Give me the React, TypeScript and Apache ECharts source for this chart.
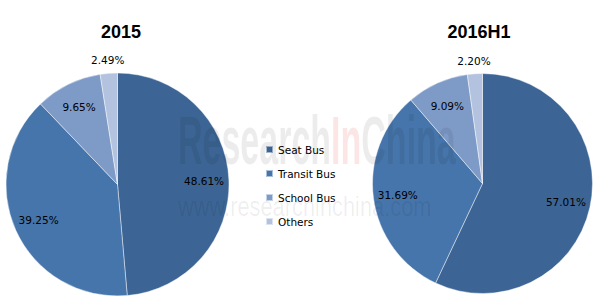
import React, { useEffect, useRef } from "react";
import * as echarts from "echarts";

const categories = ["Seat Bus", "Transit Bus", "School Bus", "Others"];
const values2015 = [48.61, 39.25, 9.65, 2.49];
const values2016H1 = [57.01, 31.69, 9.09, 2.2];
const titles = ["2015", "2016H1"];
const colors = ["#3C6595", "#4675AB", "#7E9BC8", "#B3C3DF"];

const FONT = "DejaVu Sans";

function pieSeries(values: number[], center: [number, number], r: number) {
  const data = categories.map((name, i) => ({
    name,
    value: values[i],
    itemStyle: { color: colors[i] },
  }));
  const transparent = categories.map((name, i) => ({
    name,
    value: values[i],
  }));
  const last = categories.length - 1;
  return [
    {
      type: "pie",
      center,
      radius: [0, r],
      startAngle: 90,
      clockwise: true,
      silent: true,
      label: { show: false },
      labelLine: { show: false },
      itemStyle: { borderColor: "rgba(255,255,255,0.55)", borderWidth: 0.8 },
      data,
    },
    {
      type: "pie",
      center,
      radius: [r * 0.5, r],
      startAngle: 90,
      clockwise: true,
      silent: true,
      itemStyle: { color: "rgba(0,0,0,0)", borderWidth: 0 },
      labelLine: { show: false },
      label: {
        show: true,
        position: "inside",
        color: "#000",
        fontFamily: FONT,
        fontSize: 10.5,
        formatter: (p: any) =>
          p.dataIndex === last ? "" : p.value.toFixed(2) + "%",
      },
      data: transparent,
    },
    {
      type: "pie",
      center,
      radius: [r, r * 1.18],
      startAngle: 90,
      clockwise: true,
      silent: true,
      itemStyle: { color: "rgba(0,0,0,0)", borderWidth: 0 },
      labelLine: { show: false },
      label: {
        show: true,
        position: "inside",
        color: "#000",
        fontFamily: FONT,
        fontSize: 10.5,
        formatter: (p: any) =>
          p.dataIndex === last ? p.value.toFixed(2) + "%" : "",
      },
      data: transparent,
    },
  ];
}

export default function App() {
  const ref = useRef<HTMLDivElement>(null);
  useEffect(() => {
    document.body.style.margin = "0";
    const chart = echarts.init(ref.current!, null, { renderer: "svg" });
    chart.setOption({
      animation: false,
      backgroundColor: "#fff",
      title: [
        {
          text: titles[0],
          left: 116,
          top: 18,
          textAlign: "center",
          textStyle: { fontFamily: "Liberation Sans", fontWeight: "bold", fontSize: 18, color: "#000" },
        },
        {
          text: titles[1],
          left: 474,
          top: 18,
          textAlign: "center",
          textStyle: { fontFamily: "Liberation Sans", fontWeight: "bold", fontSize: 18, color: "#000" },
        },
      ],
      legend: {
        orient: "vertical",
        left: 260,
        top: 139,
        itemWidth: 7,
        itemHeight: 7,
        itemGap: 13,
        icon: "rect",
        selectedMode: false,
        data: categories.map((name, i) => ({ name, itemStyle: { color: colors[i] } })),
        textStyle: { fontFamily: FONT, fontSize: 10.5, color: "#000" },
      },
      graphic: [
        {
          type: "text",
          x: 178,
          y: 140,
          scaleX: 0.5,
          z: 100,
          silent: true,
          style: {
            text: "{g|Research}{r|In}{g|China}",
            textVerticalAlign: "middle",
            font: "bold 68px Liberation Sans",
            rich: {
              g: { fill: "rgba(0,0,0,0.075)", font: "bold 68px Liberation Sans" },
              r: { fill: "rgba(220,0,0,0.1)", font: "bold 68px Liberation Sans" },
            },
          },
        },
        {
          type: "text",
          x: 178,
          y: 206,
          scaleX: 0.78,
          z: 100,
          silent: true,
          style: {
            text: "www.researchinchina.com",
            textVerticalAlign: "middle",
            font: "28px Liberation Sans",
            fill: "rgba(0,0,0,0.07)",
          },
        },
      ],
      series: [
        ...pieSeries(values2015, [117.5, 184.5], 111.5),
        ...pieSeries(values2016H1, [482.5, 183.5], 110),
      ],
    });
    return () => chart.dispose();
  }, []);
  return <div ref={ref} style={{ width: 600, height: 305 }} />;
}
